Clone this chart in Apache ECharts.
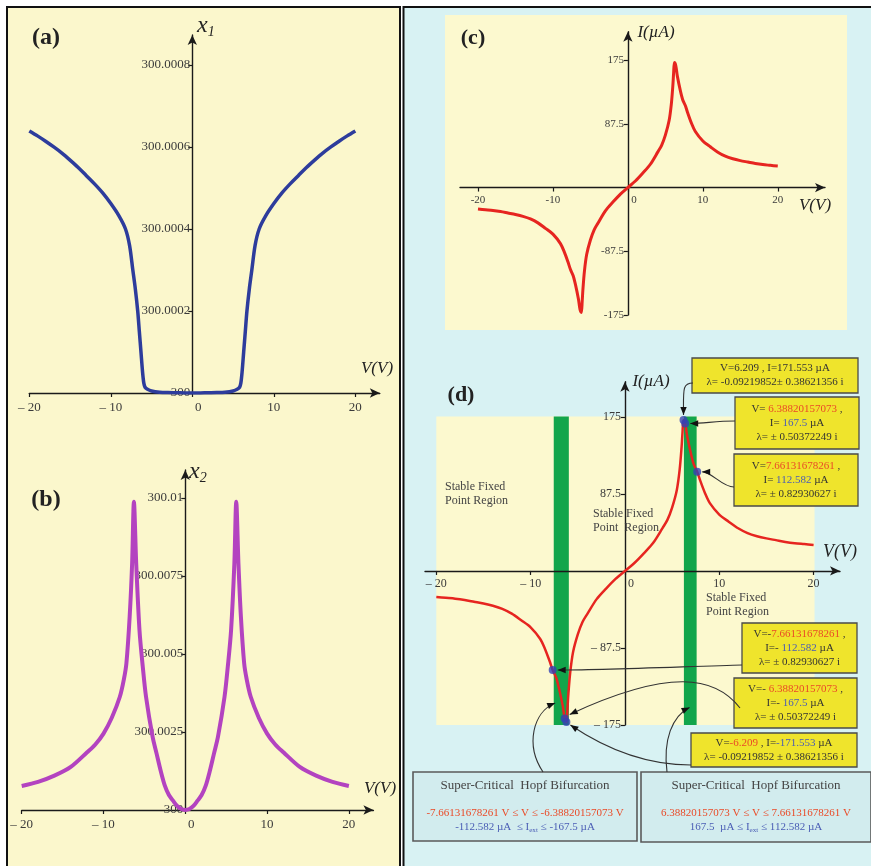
<!DOCTYPE html>
<html>
<head>
<meta charset="utf-8">
<script src="https://cdn.jsdelivr.net/npm/echarts@6/dist/echarts.min.js"></script>
<style>
html, body { margin: 0; padding: 0; background: #ffffff; }
#main { width: 871px; height: 866px; }
</style>
</head>
<body>
<div id="main"></div>
<script>
const SERIF = "'Liberation Serif','Times New Roman',serif";

// ---- (a) equilibrium x1 against V ----
const vA = [-20,-19,-18,-17,-16,-15,-14,-13,-12,-11,-10,-9,-8.2,-7.7,-7.3,-7,-6.7,-6.5,-6.3,-6.1,-5.95,-5.8,-5.5,-5,-4,-3,-2,-1,0,
            1,2,3,4,5,5.5,5.8,5.95,6.1,6.3,6.5,6.7,7,7.3,7.7,8.2,9,10,11,12,13,14,15,16,17,18,19,20];
const x1A = [300.000639,300.000627,300.000614,300.0006,300.000585,300.000568,300.00055,300.00053,300.00051,300.000488,300.000462,300.000432,
             300.0004,300.00036,300.0003,300.000255,300.0002,300.00015,300.0001,300.00005,300.000024,300.000014,300.000009,300.000005,
             300.000002,300.000001,300.0000006,300.0000002,300,
             300.0000002,300.0000006,300.000001,300.000002,300.000005,300.000009,300.000014,300.000024,300.00005,300.0001,300.00015,
             300.0002,300.000255,300.0003,300.00036,300.0004,300.000432,300.000462,300.000488,300.00051,300.00053,300.00055,300.000568,
             300.000585,300.0006,300.000614,300.000627,300.000639];

// ---- (b) equilibrium x2 against V ----
const vB = [-20,-18,-16,-14,-12,-11,-10,-9,-8,-7.5,-7.2,-6.8,-6.5,-6.28,-6,-5.6,-5.2,-4.8,-4,-3.5,-3,-2.5,-2,-1.5,-1,-0.5,0,
            0.5,1,1.5,2,2.5,3,3.5,4,4.8,5.2,5.6,6,6.23,6.5,6.8,7.2,7.5,8,9,10,11,12,14,16,18,20];
const x2B = [300.00077,300.0009,300.0011,300.00138,300.00185,300.0021,300.00245,300.00295,300.00363,300.0042,300.0047,300.0062,300.0079,
             300.00988,300.0079,300.00577,300.0046,300.00363,300.00235,300.0018,300.00125,300.00078,300.00048,300.0003,300.00013,300.00003,300,
             300.00003,300.00013,300.0003,300.00048,300.00078,300.00125,300.0018,300.00235,300.00363,300.0046,300.00577,300.0079,300.00988,
             300.0079,300.0062,300.0047,300.0042,300.00363,300.00295,300.00245,300.0021,300.00185,300.00138,300.0011,300.0009,300.00077];

// ---- (c), (d) current I (µA) against V ----
const vI = [-20,-19,-18,-17,-16,-15,-14,-13,-12,-11,-10,-9,-8.5,-8,-7.66131678261,-7.3,-7,-6.6,-6.38820157073,-6.209,-6.1,-6,-5.8,-5.5,-5,-4.5,-4,-3,-2,-1,0,
            1,2,3,4,4.5,5,5.5,5.8,6,6.1,6.209,6.38820157073,6.6,7,7.3,7.66131678261,8,8.5,9,10,11,12,13,14,15,16,17,18,19,20];
const iI = [-29.5,-30.5,-31.5,-33,-35,-37,-39.5,-43,-48.5,-56,-64,-77,-88,-102,-112.582,-121,-133,-153,-167.5,-171.553,-157,-140,-115,-92,-72,-58,-49,-32,-20,-9,0,
            9,20,32,49,58,72,92,115,140,157,171.553,167.5,153,133,121,112.582,102,88,77,64,56,48.5,43,39.5,37,35,33,31.5,30.5,29.5];

// Hopf / critical points marked in (d)
const hopfV = [6.209, 6.38820157073, 7.66131678261, -7.66131678261, -6.38820157073, -6.209];
const hopfI = [171.553, 167.5, 112.582, -112.582, -167.5, -171.553];

// shaded regions in (d)
const bandLeft = [-7.55, -5.95];
const bandRight = [6.25, 7.6];
const stableV = [-20, 20.1];
const stableI = [-175, 175.5];

// ticks and their labels
const ticksAx = [-20, -10, 0, 10, 20];
const labelsAx = ['– 20', '– 10', '0', '10', '20'];
const ticksAy = [300, 300.0002, 300.0004, 300.0006, 300.0008];
const labelsAy = ['300', '300.0002', '300.0004', '300.0006', '300.0008'];
const ticksBy = [300, 300.0025, 300.005, 300.0075, 300.01];
const labelsBy = ['300', '300.0025', '300.005', '300.0075', '300.01'];
const labelsCx = ['-20', '-10', '0', '10', '20'];
const ticksCy = [-175, -87.5, 87.5, 175];
const labelsCy = ['-175', '-87.5', '87.5', '175'];
const labelsDy = ['– 175', '– 87.5', '87.5', '175'];

const zip = (xs, ys) => xs.map((x, i) => [x, ys[i]]);

// plot rectangles of the four panels
const grids = [
  { left: 29.3, top: 35, width: 350.5, height: 358 },
  { left: 21.7, top: 470, width: 351.7, height: 340 },
  { left: 460, top: 31.7, width: 365, height: 283.3 },
  { left: 425, top: 381.7, width: 415, height: 343.3 }
];
// distance (px) from the low edge of an axis to where the crossing axis sits at zero
const zeroDist = (min, max, size) => (min >= 0 ? 0 : (-min) / (max - min) * size);

function axis(gridIndex, min, max, ticks, labels, o) {
  const fs = o.fs;
  return {
    type: 'value', gridIndex, min, max, z: 2,
    splitLine: { show: false },
    axisLine: { show: true, onZero: true, symbol: ['none', 'arrow'], symbolSize: [7, 10],
                lineStyle: { color: '#1a1a1a', width: 1.4 } },
    axisTick: { show: true, customValues: ticks, length: 4, lineStyle: { color: '#1a1a1a', width: 1.2 } },
    axisLabel: {
      show: true, customValues: ticks, margin: o.margin, color: '#3a3a3a',
      fontFamily: SERIF, fontSize: fs, hideOverlap: false,
      formatter: (v) => {
        const k = ticks.findIndex(t => Math.abs(t - v) < 1e-9);
        if (k < 0) return '';
        if (o.isX && ticks[k] === 0) return '{z|' + labels[k] + '}';
        return labels[k];
      },
      rich: { z: { padding: [0, 0, 0, 12], fontFamily: SERIF, fontSize: fs, color: '#3a3a3a' } }
    }
  };
}

const xr = [[-20, 23], [-20, 23], [-22.4, 26.3], [-21.2, 22.8]];
const yr = [[300, 300.000873], [300, 300.0109], [-175, 214], [-175, 215]];
// label margins so the tick labels sit beside the axis lines drawn through zero
const yMargin = (g, gap) => gap - zeroDist(xr[g][0], xr[g][1], grids[g].width);
const xMargin = (g, gap) => gap - zeroDist(yr[g][0], yr[g][1], grids[g].height);

const chart = echarts.init(document.getElementById('main'));

const option = {
  backgroundColor: '#ffffff',
  animation: false,
  grid: grids.map(g => Object.assign({ containLabel: false, outerBoundsMode: 'none' }, g)),
  xAxis: [
    axis(0, xr[0][0], xr[0][1], ticksAx, labelsAx, { fs: 13, margin: xMargin(0, 8), isX: true }),
    axis(1, xr[1][0], xr[1][1], ticksAx, labelsAx, { fs: 13, margin: xMargin(1, 8), isX: true }),
    axis(2, xr[2][0], xr[2][1], ticksAx, labelsCx, { fs: 11, margin: xMargin(2, 7), isX: true }),
    axis(3, xr[3][0], xr[3][1], ticksAx, labelsAx, { fs: 12, margin: xMargin(3, 7), isX: true })
  ],
  yAxis: [
    axis(0, yr[0][0], yr[0][1], ticksAy, labelsAy, { fs: 13, margin: yMargin(0, 2) }),
    axis(1, yr[1][0], yr[1][1], ticksBy, labelsBy, { fs: 13, margin: yMargin(1, 2) }),
    axis(2, yr[2][0], yr[2][1], ticksCy, labelsCy, { fs: 11, margin: yMargin(2, 4) }),
    axis(3, yr[3][0], yr[3][1], ticksCy, labelsDy, { fs: 12, margin: yMargin(3, 4) })
  ],
  series: [
    { type: 'line', xAxisIndex: 0, yAxisIndex: 0, data: zip(vA, x1A), showSymbol: false, smooth: 0.3, z: 3,
      lineStyle: { color: '#2d3c9c', width: 3.5 } },
    { type: 'line', xAxisIndex: 1, yAxisIndex: 1, data: zip(vB, x2B), showSymbol: false, smooth: 0.3, z: 3,
      lineStyle: { color: '#b343c0', width: 4 } },
    { type: 'line', xAxisIndex: 2, yAxisIndex: 2, data: zip(vI, iI), showSymbol: false, smooth: 0.3, z: 3,
      lineStyle: { color: '#e62520', width: 3 } },
    { type: 'line', xAxisIndex: 3, yAxisIndex: 3, data: [[0, 0]], showSymbol: false, z: 1,
      lineStyle: { opacity: 0 }, silent: true,
      markArea: { silent: true, data: [
        [{ xAxis: stableV[0], yAxis: stableI[0], itemStyle: { color: '#fcf9cf' } }, { xAxis: stableV[1], yAxis: stableI[1] }],
        [{ xAxis: bandLeft[0], yAxis: stableI[0], itemStyle: { color: '#12a54b' } }, { xAxis: bandLeft[1], yAxis: stableI[1] }],
        [{ xAxis: bandRight[0], yAxis: stableI[0], itemStyle: { color: '#12a54b' } }, { xAxis: bandRight[1], yAxis: stableI[1] }]
      ] } },
    { type: 'line', xAxisIndex: 3, yAxisIndex: 3, data: zip(vI, iI), showSymbol: false, smooth: 0.3, z: 3,
      lineStyle: { color: '#e62520', width: 2.5 } },
    { type: 'scatter', xAxisIndex: 3, yAxisIndex: 3, data: zip(hopfV, hopfI), symbolSize: 8, z: 4,
      itemStyle: { color: '#3342b5' } }
  ]
};
chart.setOption(option);

// ---------- decorations: panels, captions, call-out boxes, arrows ----------
function txt(x, y, text, o = {}) {
  const s = {
    text, fill: o.fill || '#222', fontFamily: SERIF, fontSize: o.fs || 12,
    fontWeight: o.fw || 'normal', fontStyle: o.fst || 'normal',
    align: o.align || 'left', textAlign: o.align || 'left',
    verticalAlign: o.va || 'middle', textVerticalAlign: o.va || 'middle'
  };
  if (o.lh) s.lineHeight = o.lh;
  if (o.rich) s.rich = o.rich;
  return { type: 'text', x, y, z: o.z || 20, silent: true, style: s };
}

function richSet(fs, lh) {
  const base = { fontFamily: SERIF, fontSize: fs, lineHeight: lh };
  return {
    k: Object.assign({ fill: '#333' }, base),
    r: Object.assign({ fill: '#ea4a27' }, base),
    b: Object.assign({ fill: '#4a5db5' }, base),
    bs: { fill: '#4a5db5', fontFamily: SERIF, fontSize: fs * 0.65, lineHeight: lh, verticalAlign: 'bottom' }
  };
}

function calloutBox(x, y, w, h, text) {
  return [
    { type: 'rect', z: 10, silent: true, shape: { x, y, width: w, height: h },
      style: { fill: '#efe42c', stroke: '#4a4a4a', lineWidth: 1.3 } },
    txt(x + w / 2, y + h / 2, text, { align: 'center', fs: 11, lh: 14, rich: richSet(11, 14), z: 11 })
  ];
}

function hopfBox(x, y, w, h, rangeV, rangeI) {
  return [
    { type: 'rect', z: 10, silent: true, shape: { x, y, width: w, height: h },
      style: { fill: '#d2ecee', stroke: '#5a5a5a', lineWidth: 1.6 } },
    txt(x + w / 2, y + 14, 'Super-Critical  Hopf Bifurcation', { align: 'center', fs: 13, fill: '#444', z: 11 }),
    txt(x + w / 2, y + 48, rangeV + '\n' + rangeI, { align: 'center', fs: 11, lh: 14, rich: richSet(11, 14), z: 11 })
  ];
}

function arrow(p0, c1, c2, p1) {
  const dx = p1[0] - c2[0], dy = p1[1] - c2[1];
  const L = Math.hypot(dx, dy) || 1, ux = dx / L, uy = dy / L;
  const bx = p1[0] - ux * 8, by = p1[1] - uy * 8, nx = -uy * 3.2, ny = ux * 3.2;
  return [
    { type: 'bezierCurve', z: 12, silent: true,
      shape: { x1: p0[0], y1: p0[1], cpx1: c1[0], cpy1: c1[1], cpx2: c2[0], cpy2: c2[1], x2: p1[0], y2: p1[1] },
      style: { stroke: '#333', lineWidth: 1.1, fill: 'none' } },
    { type: 'polygon', z: 12, silent: true,
      shape: { points: [[p1[0], p1[1]], [bx + nx, by + ny], [bx - nx, by - ny]] },
      style: { fill: '#111' } }
  ];
}

const px = (v, i) => chart.convertToPixel({ gridIndex: 3 }, [v, i]);
const dots = hopfV.map((v, k) => px(v, hopfI[k]));
const bandL = px(bandLeft[0] + 0.15, -150);
const bandR = px(bandRight[0] + 0.6, -155);

const rich12 = {
  x: { fontFamily: SERIF, fontSize: 24, fontStyle: 'italic', fill: '#222', lineHeight: 26 },
  s: { fontFamily: SERIF, fontSize: 14, fontStyle: 'italic', fill: '#222', lineHeight: 26, verticalAlign: 'bottom' }
};

const els = [
  // panel backgrounds
  { type: 'rect', z: -5, silent: true, shape: { x: 7, y: 7, width: 393, height: 875 },
    style: { fill: '#fbf7cc', stroke: '#111', lineWidth: 2 } },
  { type: 'rect', z: -5, silent: true, shape: { x: 403.5, y: 7, width: 480, height: 875 },
    style: { fill: '#d8f2f3', stroke: '#111', lineWidth: 2 } },
  { type: 'rect', z: -4, silent: true, shape: { x: 445, y: 15, width: 402, height: 315 },
    style: { fill: '#fcf9cf' } },

  // panel tags
  txt(46, 38, '(a)', { fs: 24, fw: 'bold', align: 'center' }),
  txt(46, 500, '(b)', { fs: 24, fw: 'bold', align: 'center' }),
  txt(473, 38, '(c)', { fs: 22, fw: 'bold', align: 'center' }),
  txt(461, 395, '(d)', { fs: 22, fw: 'bold', align: 'center' }),

  // axis titles
  txt(197, 26, '{x|x}{s|1}', { rich: rich12 }),
  txt(377, 369, 'V(V)', { fs: 17, fst: 'italic', align: 'center' }),
  txt(189, 472, '{x|x}{s|2}', { rich: rich12 }),
  txt(380, 789, 'V(V)', { fs: 17, fst: 'italic', align: 'center' }),
  txt(656, 33, 'I(µA)', { fs: 17, fst: 'italic', align: 'center' }),
  txt(815, 206, 'V(V)', { fs: 17, fst: 'italic', align: 'center' }),
  txt(651, 382, 'I(µA)', { fs: 17, fst: 'italic', align: 'center' }),
  txt(840, 552, 'V(V)', { fs: 18, fst: 'italic', align: 'center' }),

  // region captions
  txt(445, 494, 'Stable Fixed\nPoint Region', { fs: 12, lh: 14, fill: '#444' }),
  txt(593, 521, 'Stable Fixed\nPoint  Region', { fs: 12, lh: 14, fill: '#444' }),
  txt(706, 605, 'Stable Fixed\nPoint Region', { fs: 12, lh: 14, fill: '#444' }),

  // call-out boxes
  ...calloutBox(692, 358, 166, 35, '{k|V=6.209 , I=171.553 µA}\n{k|λ= -0.09219852± 0.38621356 i}'),
  ...calloutBox(735, 397, 124, 52, '{k|V= }{r|6.38820157073}{k| ,}\n{k|I= }{b|167.5}{k| µA}\n{k|λ= ± 0.50372249 i}'),
  ...calloutBox(734, 454, 124, 52, '{k|V=}{r|7.66131678261}{k| ,}\n{k|I= }{b|112.582}{k| µA}\n{k|λ= ± 0.82930627 i}'),
  ...calloutBox(742, 623, 115, 50, '{k|V=-}{r|7.66131678261}{k| ,}\n{k|I=- }{b|112.582}{k| µA}\n{k|λ= ± 0.82930627 i}'),
  ...calloutBox(734, 678, 123, 50, '{k|V=- }{r|6.38820157073}{k| ,}\n{k|I=- }{b|167.5}{k| µA}\n{k|λ= ± 0.50372249 i}'),
  ...calloutBox(691, 733, 166, 34, '{k|V=}{r|-6.209}{k| , I=}{b|-171.553}{k| µA}\n{k|λ= -0.09219852 ± 0.38621356 i}'),

  // Hopf summary boxes
  ...hopfBox(413, 772, 224, 69,
    '{r|-7.66131678261 V ≤ V ≤ -6.38820157073 V}',
    '{b|-112.582 µA  ≤ I}{bs|ext}{b| ≤ -167.5 µA}'),
  ...hopfBox(641, 772, 230, 70,
    '{r|6.38820157073 V ≤ V ≤ 7.66131678261 V}',
    '{b|167.5  µA ≤ I}{bs|ext}{b| ≤ 112.582 µA}'),

  // arrows
  ...arrow([693, 383], [682, 383], [dots[0][0], 390], [dots[0][0], dots[0][1] - 5]),
  ...arrow([735, 421], [715, 421], [705, dots[1][1]], [dots[1][0] + 5, dots[1][1]]),
  ...arrow([734, 487], [722, 487], [712, dots[2][1]], [dots[2][0] + 5, dots[2][1]]),
  ...arrow([742, 665], [700, 666], [600, dots[3][1]], [dots[3][0] + 5, dots[3][1]]),
  ...arrow([740, 708], [715, 676], [670, 668], [dots[4][0] + 5, dots[4][1] - 4]),
  ...arrow([691, 765], [640, 765], [600, 745], [dots[5][0] + 4, dots[5][1] + 3]),
  ...arrow([543, 772], [525, 745], [533, 712], bandL),
  ...arrow([667, 772], [663, 740], [672, 716], bandR)
];

chart.setOption({ graphic: { elements: els } });
</script>
</body>
</html>
